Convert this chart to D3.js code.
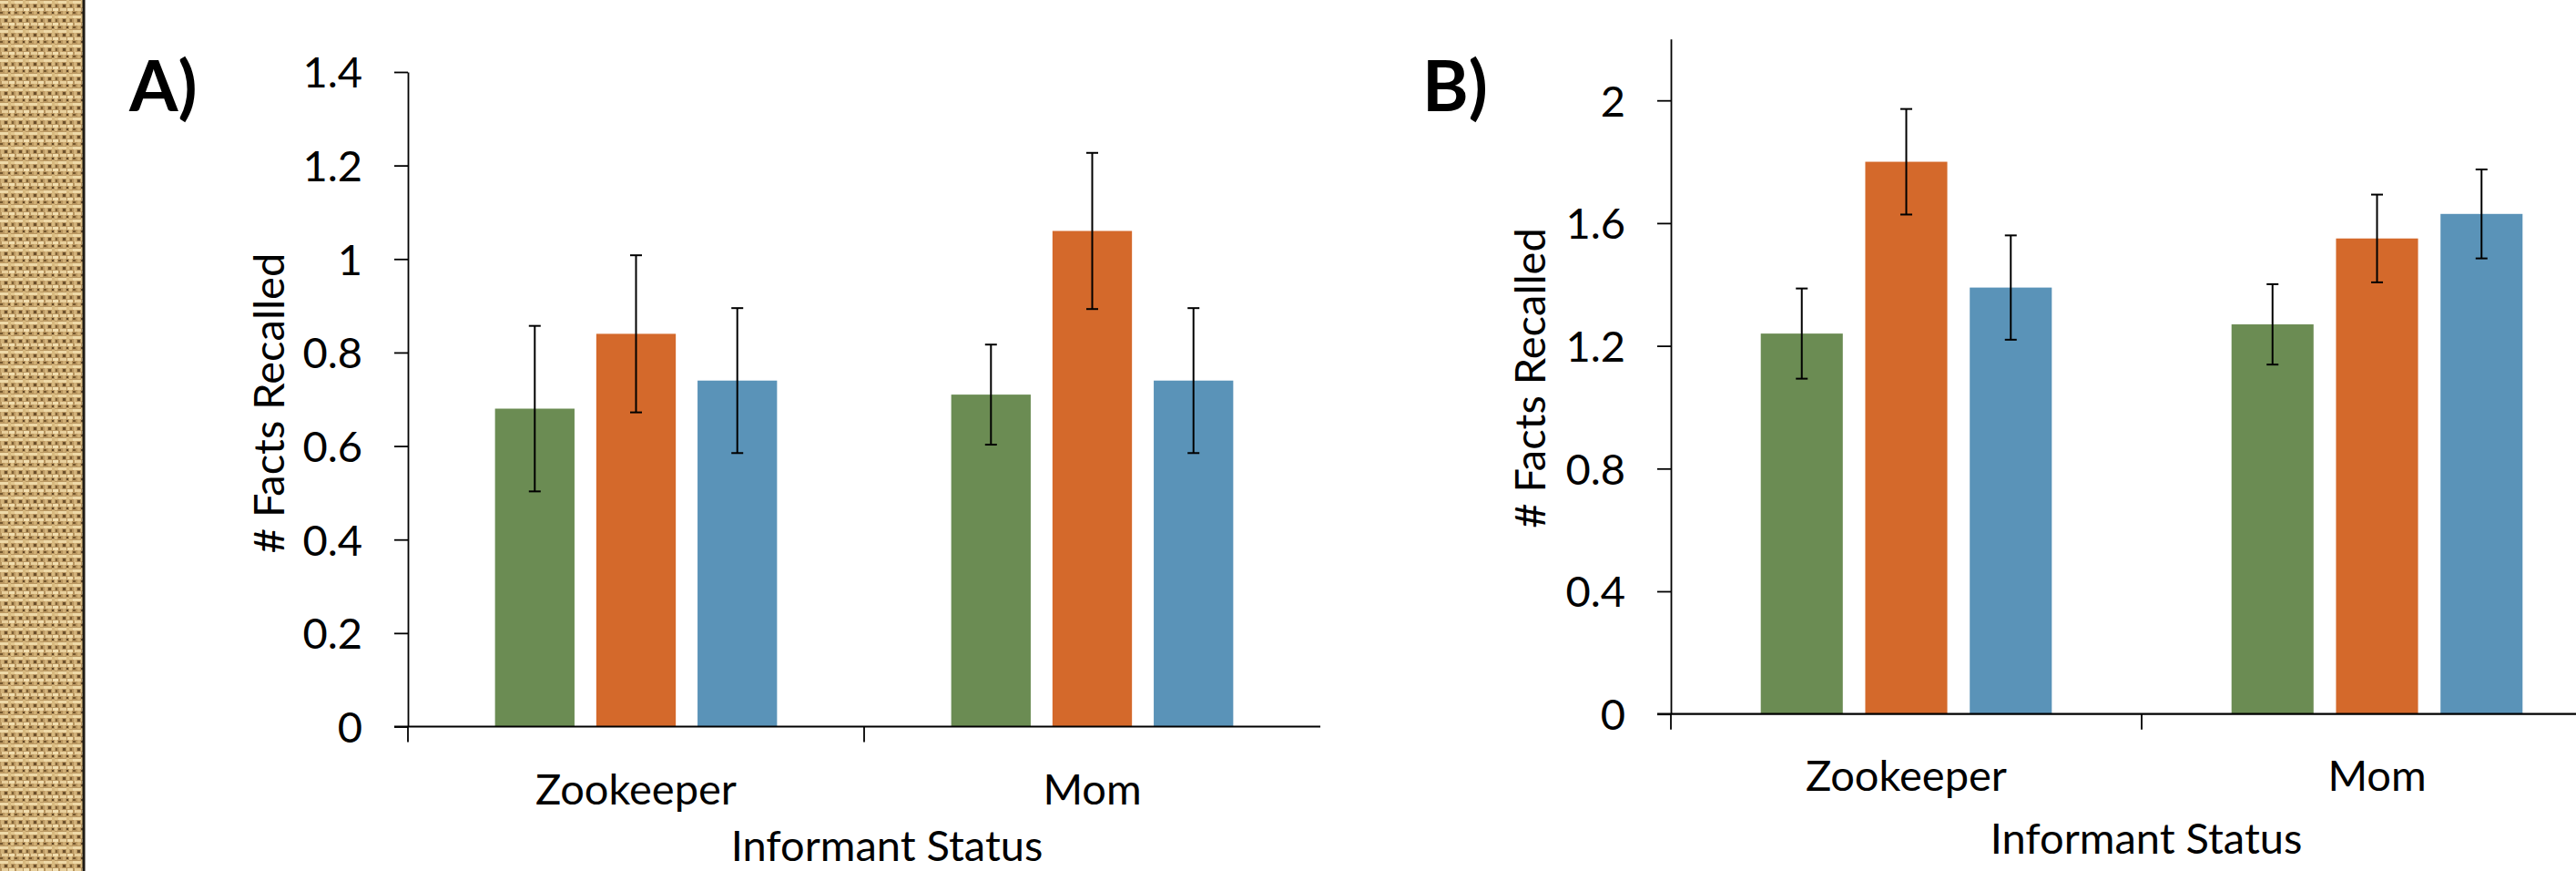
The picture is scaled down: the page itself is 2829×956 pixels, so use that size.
<!DOCTYPE html>
<html>
<head>
<meta charset="utf-8">
<script src="https://cdn.jsdelivr.net/npm/d3@7"></script>
<style>
  body { margin: 0; background: #fff; }
  svg { display: block; }
</style>
</head>
<body>
<script>
// categories on the x axis, three bar series per category
var categories = ["Zookeeper", "Mom"];
var seriesNames = ["Green", "Orange", "Blue"];
var seriesColors = ["#6B8C53", "#D4692B", "#5A93B8"];

// panel A: means and error (+/-) per category, per series
var meansA = [[0.68, 0.84, 0.74], [0.71, 1.06, 0.74]];
var errA = [[0.177, 0.168, 0.155], [0.107, 0.167, 0.155]];
var ticksA = [0, 0.2, 0.4, 0.6, 0.8, 1, 1.2, 1.4];

// panel B
var meansB = [[1.24, 1.80, 1.39], [1.27, 1.55, 1.63]];
var errB = [[0.147, 0.172, 0.170], [0.131, 0.143, 0.145]];
var ticksB = [0, 0.4, 0.8, 1.2, 1.6, 2];

var W = 2829, H = 956;
var font = "Lato, 'Open Sans', sans-serif";

var svg = d3.select("body").append("svg")
    .attr("width", W)
    .attr("height", H);

// ---- burlap strip on the left ----
// woven look: light threads over a mid tan, small dark gaps
var defs = svg.append("defs");
var pat = defs.append("pattern")
    .attr("id", "burlap")
    .attr("patternUnits", "userSpaceOnUse")
    .attr("width", 16).attr("height", 16);
var weave = [
    [0, 0, 16, 16, "#B99660"],
    [0, 1, 9, 3, "#EED9A8"],
    [10, 1, 6, 3, "#E3C78F"],
    [2, 9, 7, 3, "#E8CF9C"],
    [10, 9, 6, 3, "#F1DEB0"],
    [9, 0, 3, 8, "#D8BA80"],
    [1, 4, 3, 5, "#D2B27A"],
    [12, 12, 3, 4, "#DDBF86"],
    [5, 12, 3, 4, "#CFAE74"],
    [5, 5, 3, 3, "#6A4F2C"],
    [13, 5, 2, 3, "#7E6035"],
    [0, 13, 3, 2, "#75582F"],
    [9, 13, 2, 2, "#5F4627"]
];
weave.forEach(function (r) {
    pat.append("rect")
        .attr("x", r[0]).attr("y", r[1])
        .attr("width", r[2]).attr("height", r[3])
        .attr("fill", r[4]);
});

svg.append("rect")
    .attr("x", 0).attr("y", 0)
    .attr("width", 91).attr("height", H)
    .attr("fill", "url(#burlap)");
svg.append("line")
    .attr("x1", 92).attr("x2", 92)
    .attr("y1", 0).attr("y2", H)
    .attr("stroke", "#1e1a14").attr("stroke-width", 3);

// ---- one panel ----
function drawPanel(p) {
    var g = svg.append("g");

    var x = d3.scaleBand()
        .domain(categories)
        .range([p.x0, p.x1])
        .paddingInner(0).paddingOuter(0);

    var xs = d3.scaleBand()
        .domain(seriesNames)
        .range([0, x.bandwidth()])
        .paddingInner(0.215)
        .paddingOuter(0.86);

    var y = d3.scaleLinear()
        .domain([0, p.yMax])
        .range([p.yZero, p.yTop]);

    // bars
    var groups = g.selectAll(".grp")
        .data(categories)
        .enter().append("g")
        .attr("class", "grp")
        .attr("transform", function (d) { return "translate(" + x(d) + ",0)"; });

    groups.selectAll("rect")
        .data(function (d, i) {
            return seriesNames.map(function (s, j) {
                return { s: s, v: p.means[i][j], e: p.errs[i][j], c: seriesColors[j] };
            });
        })
        .enter().append("rect")
        .attr("x", function (d) { return xs(d.s); })
        .attr("width", xs.bandwidth())
        .attr("y", function (d) { return y(d.v); })
        .attr("height", function (d) { return y(0) - y(d.v); })
        .attr("fill", function (d) { return d.c; });

    // error bars
    var eb = groups.selectAll(".err")
        .data(function (d, i) {
            return seriesNames.map(function (s, j) {
                return { s: s, v: p.means[i][j], e: p.errs[i][j] };
            });
        })
        .enter().append("g")
        .attr("class", "err")
        .attr("stroke", "#000")
        .attr("stroke-width", 2);
    var cx = function (d) { return xs(d.s) + xs.bandwidth() / 2; };
    eb.append("line")
        .attr("x1", cx).attr("x2", cx)
        .attr("y1", function (d) { return y(d.v + d.e); })
        .attr("y2", function (d) { return y(d.v - d.e); });
    eb.append("line")
        .attr("x1", function (d) { return cx(d) - 6.5; })
        .attr("x2", function (d) { return cx(d) + 6.5; })
        .attr("y1", function (d) { return y(d.v + d.e); })
        .attr("y2", function (d) { return y(d.v + d.e); });
    eb.append("line")
        .attr("x1", function (d) { return cx(d) - 6.5; })
        .attr("x2", function (d) { return cx(d) + 6.5; })
        .attr("y1", function (d) { return y(d.v - d.e); })
        .attr("y2", function (d) { return y(d.v - d.e); });

    // y axis
    var yAxis = g.append("g")
        .attr("transform", "translate(" + p.x0 + ",0)")
        .call(d3.axisLeft(y)
            .tickValues(p.ticks)
            .tickFormat(function (d) { return d3.format("")(+d.toFixed(1)); })
            .tickSize(15)
            .tickSizeOuter(0)
            .tickPadding(35));
    yAxis.select(".domain").attr("stroke-width", 1.8);
    yAxis.selectAll(".tick line").attr("stroke-width", 1.8);
    yAxis.selectAll(".tick text")
        .attr("font-family", font)
        .attr("font-size", 47)
        .attr("dy", "0.36em")
        .attr("fill", "#000");

    // x axis: line, category boundary ticks, labels
    g.append("line")
        .attr("x1", p.x0 - 15).attr("x2", p.x1)
        .attr("y1", y(0)).attr("y2", y(0))
        .attr("stroke", "#000").attr("stroke-width", 2.2);
    g.selectAll(".bound")
        .data(categories)
        .enter().append("line")
        .attr("class", "bound")
        .attr("x1", function (d) { return x(d); })
        .attr("x2", function (d) { return x(d); })
        .attr("y1", y(0)).attr("y2", y(0) + 17)
        .attr("stroke", "#000").attr("stroke-width", 1.8);

    g.selectAll(".cat")
        .data(categories)
        .enter().append("text")
        .attr("class", "cat")
        .attr("x", function (d) { return x(d) + x.bandwidth() / 2; })
        .attr("y", y(0) + p.catOffset)
        .attr("text-anchor", "middle")
        .attr("font-family", font)
        .attr("font-size", 47)
        .text(function (d) { return d; });

    g.append("text")
        .attr("x", x(categories[1]) + p.xTitleShift)
        .attr("y", y(0) + p.xTitleOffset)
        .attr("text-anchor", "middle")
        .attr("font-family", font)
        .attr("font-size", 47)
        .text("Informant Status");

    g.append("text")
        .attr("transform", "translate(" + p.yTitleX + "," + p.yTitleY + ") rotate(-90)")
        .attr("text-anchor", "middle")
        .attr("font-family", font)
        .attr("font-size", 47)
        .text("# Facts Recalled");

    g.append("text")
        .attr("x", p.labelX)
        .attr("y", 122)
        .attr("font-family", font)
        .attr("font-weight", 700)
        .attr("font-size", 77)
        .text(p.label);
}

drawPanel({
    label: "A)", labelX: 142,
    x0: 448, x1: 1450,
    yZero: 797.5, yTop: 79, yMax: 1.4,
    ticks: ticksA, means: meansA, errs: errA,
    catOffset: 85.5, xTitleShift: 25, xTitleOffset: 147.5,
    yTitleX: 312, yTitleY: 442.5
});

drawPanel({
    label: "B)", labelX: 1562,
    x0: 1835, x1: 2869,
    yZero: 783.7, yTop: 42.85, yMax: 2.2,
    ticks: ticksB, means: meansB, errs: errB,
    catOffset: 84.5, xTitleShift: 5, xTitleOffset: 153,
    yTitleX: 1697, yTitleY: 415
});
</script>
</body>
</html>
